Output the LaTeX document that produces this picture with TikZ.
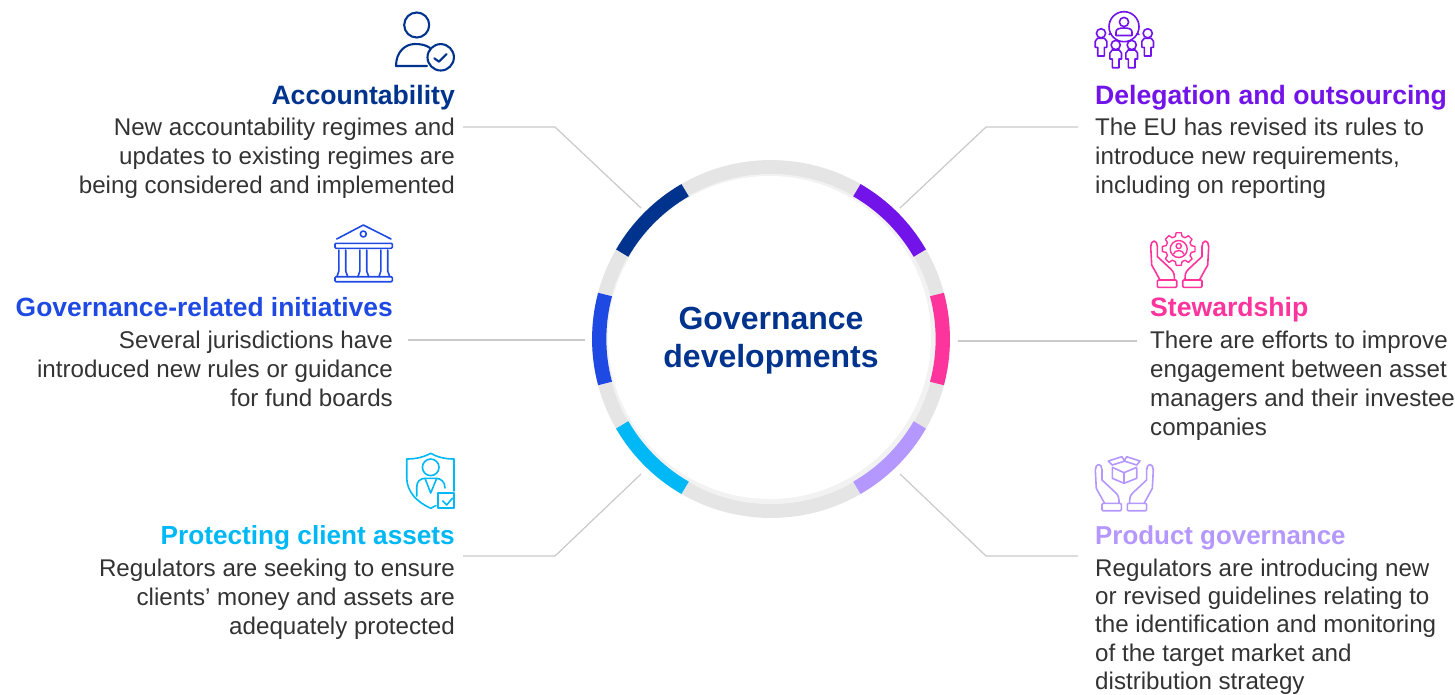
\documentclass[tikz,border=0pt]{standalone}
\usepackage{fontspec}
\setmainfont{Liberation Sans}
\definecolor{acctcol}{HTML}{00338D}
\definecolor{initcol}{HTML}{1E49E2}
\definecolor{clientcol}{HTML}{00B8F5}
\definecolor{delegcol}{HTML}{7213EA}
\definecolor{stewcol}{HTML}{FD349C}
\definecolor{prodcol}{HTML}{B497FF}
\definecolor{ringgray}{HTML}{E5E5E5}
\definecolor{linegray}{HTML}{C9C9C9}
\definecolor{bodygray}{HTML}{333333}
\tikzset{
    heading/.style={inner sep=0pt, font=\fontsize{26.6}{29}\selectfont\bfseries},
    bodyleft/.style={inner sep=0pt, align=right, text=bodygray, font=\fontsize{24.15}{28.8}\selectfont},
    bodyright/.style={inner sep=0pt, align=left, text=bodygray, font=\fontsize{24.15}{28.8}\selectfont},
    leader/.style={linegray, line width=1.2pt},
    iconline/.style={line width=1.6pt, line join=round, line cap=round},
    hands/.pic={
        \draw [rounded corners=1pt] (-22.3,-7.3) rectangle (-3,0);
        \draw (-19.7,-7.3) -- (-28,-22.3) -- (-29,-40.7) arc[start angle=180, end angle=360, x radius=3.35, y radius=5.6] -- (-22.3,-30.7) -- (-9,-18.3) .. controls (-5.3,-15) and (-5.3,-12) .. (-5.3,-7.3);
        \draw [rounded corners=1pt] (3,0) rectangle (22.3,-7.3);
        \draw (19.7,-7.3) -- (28,-22.3) -- (29,-40.7) arc[start angle=360, end angle=180, x radius=3.35, y radius=5.6] -- (22.3,-30.7) -- (9,-18.3) .. controls (5.3,-15) and (5.3,-12) .. (5.3,-7.3);
    },
    staff/.pic={
        \draw (0,0) circle[radius=4.6];
        \draw (-3.3,22.7) -- (-3.3,14) -- (-5.8,14) -- (-5.8,8) -- (-3.5,5) -- (3.5,5) -- (5.8,8) -- (5.8,14) -- (3.3,14) -- (3.3,22.7) -- cycle;
    }
}

\begin{document}
\begin{tikzpicture}[x=1pt, y=-1pt]
    \pgfmathsetmacro{\ringrad}{171.8}
    \pgfmathsetmacro{\ringwidth}{14.3}
    \useasboundingbox (0,0) rectangle (1455,694);

    % ring
    \coordinate (hub) at (771,339);
    \draw [ringgray, line width=\ringwidth pt] (hub) circle[radius=\ringrad];
    \fill [black!5] (hub) circle[radius=165];
    \fill [white] (769.5,337.5) circle[radius=161.5];
    \foreach \from/\to/\segcol in {-150/-120/acctcol, -60/-30/delegcol, 165/195/initcol, -15/15/stewcol, 120/150/clientcol, 30/60/prodcol}
        \draw [\segcol, line width=\ringwidth pt] (hub) ++(\from:\ringrad) arc[start angle=\from, end angle=\to, radius=\ringrad];

    \node (title) [acctcol, inner sep=0pt, align=center, font=\fontsize{32}{38}\selectfont\bfseries] at (771,341) {Governance\\developments};

    % left column
    \node (accthead) [heading, acctcol, anchor=base east] at (455,104) {Accountability};
    \node (acctbody) [bodyleft, anchor=north east] at (455,118) {New accountability regimes and\\updates to existing regimes are\\being considered and implemented};
    \node (inithead) [heading, initcol, anchor=base east, font=\fontsize{26.4}{29}\selectfont\bfseries] at (393,316) {Governance-related initiatives};
    \node (initbody) [bodyleft, anchor=north east] at (393,331) {Several jurisdictions have\\introduced new rules or guidance\\for fund boards};
    \node (clienthead) [heading, clientcol, anchor=base east, font=\fontsize{26.2}{29}\selectfont\bfseries] at (455,544) {Protecting client assets};
    \node (clientbody) [bodyleft, anchor=north east] at (455,559) {Regulators are seeking to ensure\\clients’ money and assets are\\adequately protected};

    % right column
    \node (deleghead) [heading, delegcol, anchor=base west] at (1095,104) {Delegation and outsourcing};
    \node (delegbody) [bodyright, anchor=north west] at (1095,118) {The EU has revised its rules to\\introduce new requirements,\\including on reporting};
    \node (stewhead) [heading, stewcol, anchor=base west] at (1150,316) {Stewardship};
    \node (stewbody) [bodyright, anchor=north west] at (1150,331) {There are efforts to improve\\engagement between asset\\managers and their investee\\companies};
    \node (prodhead) [heading, prodcol, anchor=base west, font=\fontsize{25.9}{29}\selectfont\bfseries] at (1095,544) {Product governance};
    \node (prodbody) [bodyright, anchor=north west, font=\fontsize{24.15}{28.3}\selectfont] at (1095,558.5) {Regulators are introducing new\\or revised guidelines relating to\\the identification and monitoring\\of the target market and\\distribution strategy};

    % leaders
    \coordinate (acctin) at (641,208);
    \coordinate (delegin) at (900,208);
    \coordinate (clientin) at (641,474);
    \coordinate (prodin) at (900,474);
    \coordinate (initin) at (585,340);
    \coordinate (stewin) at (958,341);
    \draw [leader] (463,127) -- (555,127) -- (acctin);
    \draw [leader] (1078,127) -- (986,127) -- (delegin);
    \draw [leader] (463,556) -- (555,556) -- (clientin);
    \draw [leader] (1078,556) -- (986,556) -- (prodin);
    \draw [leader] (408,340) -- (initin);
    \draw [leader] (1137,341) -- (stewin);

    % accountability icon
    \begin{scope}[iconline, acctcol, line width=2.1pt]
        \draw (416.7,25) circle[radius=12.5];
        \draw (427,66) -- (396,66) .. controls (396,52) and (405,44) .. (415,44) .. controls (421,44) and (426,45) .. (430,48);
        \draw (440.7,57.3) circle[radius=13.2];
        \draw (434.3,58.3) -- (439,61.7) -- (446.7,54);
    \end{scope}

    % delegation icon
    \begin{scope}[iconline, delegcol]
        \draw (1124,26.7) circle[radius=15];
        \draw (1124,22) circle[radius=4.6];
        \draw (1116,35.5) -- (1116,32) .. controls (1116,29) and (1119,28) .. (1124,28) .. controls (1129,28) and (1132,29) .. (1132,32) -- (1132,35.5) -- cycle;
        \draw (1109,34.5) -- (1111,33.5);
        \draw (1137,33.5) -- (1139,34.5);
        \foreach \px/\py in {1101/33.3, 1147.7/33.3, 1115.7/45, 1131.7/45}
            \pic at (\px,\py) {staff};
    \end{scope}

    % bank icon
    \begin{scope}[iconline, initcol]
        \draw (336.7,239) -- (363.3,225) -- (391,239);
        \draw (363.3,234) circle[radius=3];
        \draw [rounded corners=1pt] (335,243.3) rectangle (392.3,248.3);
        \draw [rounded corners=1pt] (335,276.7) rectangle (392.3,281.7);
        \foreach \colx in {342.3,363.3,384.3}
            \draw (\colx-3.4,250) -- (\colx-3.4,271) -- (\colx-5.4,276.7) (\colx+3.4,250) -- (\colx+3.4,271) -- (\colx+5.4,276.7);
    \end{scope}

    % stewardship icon
    \begin{scope}[iconline, stewcol]
        \pic at (1179.7,287.3) {hands};
        \begin{scope}[shift={(1178.7,249)}, line width=1.4pt]
            \draw (-9:16.5) \foreach \tooth in {0,45,...,315} { -- (\tooth-9:16.5) -- (\tooth+9:16.5) -- (\tooth+15:13) -- (\tooth+30:13)} -- cycle;
            \draw (0,0) circle[radius=8.5];
            \draw (0,-3) circle[radius=2.6];
            \draw (-5,5) .. controls (-5,0.5) and (5,0.5) .. (5,5);
        \end{scope}
    \end{scope}

    % client icon
    \begin{scope}[iconline, clientcol]
        \draw (454,491) -- (454,459) .. controls (445,459) and (437,457) .. (430.7,453.3) .. controls (424,457) and (416,459) .. (406.7,459) -- (406.7,478) .. controls (407,492) and (417,502) .. (430.7,508.3) -- (436,505.5);
        \draw (430.7,467.3) circle[radius=8.3];
        \draw (416.7,496) -- (416.7,487) .. controls (416.7,482) and (420,478.3) .. (425,478.3) -- (436,478.3) .. controls (441,478.3) and (445,482) .. (445,488);
        \draw (425,478.3) -- (430.7,493) -- (436.7,478.3);
        \draw [line width=2.2pt] (438.3,492.7) rectangle (454,508.3);
        \draw (442.7,501) -- (446.7,505) -- (452.3,498.3);
    \end{scope}

    % product icon
    \begin{scope}[iconline, prodcol]
        \pic at (1124.3,510.7) {hands};
        \draw (1112.3,468.3) -- (1112.3,478.3) -- (1124,483.3) -- (1136.7,478.3) -- (1136.7,468.3);
        \draw (1124,472.7) -- (1124,483.3);
        \draw (1112.3,467.3) -- (1124,472.7) -- (1136.7,467.3);
        \draw (1108.3,461) -- (1121.7,456.7) -- (1125,461) -- (1112.3,465) -- cycle;
        \draw (1126.7,456.7) -- (1140,461) -- (1136.7,465) -- (1124,461) -- cycle;
    \end{scope}
\end{tikzpicture}
\end{document}
